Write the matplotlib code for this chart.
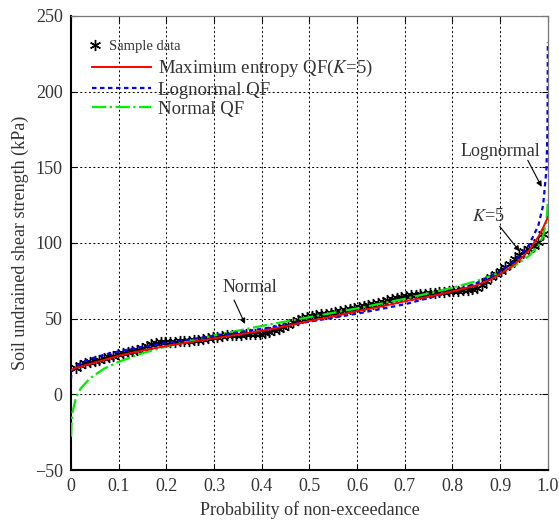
import numpy as np
import matplotlib
matplotlib.use("Agg")
import matplotlib.pyplot as plt

plt.rcParams['font.family'] = ['Liberation Serif', 'DejaVu Serif']
plt.rcParams['mathtext.fontset'] = 'stix'

# ---- data ----
sample_values = [
    17.6, 19.2, 20.5, 21.2, 21.9, 22.9, 23.8, 24.6, 25.6, 26.4,
    27.0, 27.7, 28.4, 29.5, 30.8, 31.8, 33.1, 33.9, 34.3, 34.4,
    34.6, 34.8, 35.0, 35.2, 35.5, 35.7, 36.1, 36.5, 37.0, 37.6,
    38.1, 38.5, 38.9, 39.2, 39.4, 39.5, 39.6, 39.7, 39.9, 40.1,
    40.5, 41.3, 42.2, 43.3, 44.6, 46.0, 47.5, 49.0, 50.2, 51.1,
    51.7, 52.3, 52.8, 53.3, 53.9, 54.5, 55.1, 55.8, 56.5, 57.2,
    57.7, 58.3, 58.9, 59.6, 60.4, 61.3, 62.2, 63.0, 63.8, 64.5,
    65.0, 65.4, 65.8, 66.2, 66.6, 66.9, 67.2, 67.5, 67.8, 68.0,
    68.2, 68.4, 68.7, 69.0, 69.5, 70.2, 72.5, 75.0, 77.5, 79.6,
    81.7, 83.8, 86.2, 89.3, 92.2, 94.8, 96.2, 97.8, 100.5, 106.0,
]
n_sample = len(sample_values)
sample_prob = [(i + 1) / (n_sample + 1) for i in range(n_sample)]

me_prob = [0.0, 0.01, 0.05, 0.1, 0.15, 0.2, 0.25, 0.3, 0.35, 0.4, 0.45, 0.5,
           0.55, 0.6, 0.65, 0.7, 0.75, 0.8, 0.85, 0.88, 0.9, 0.92, 0.94,
           0.96, 0.98, 0.99, 1.0]
me_values = [16.0, 17.5, 21.0, 25.5, 29.0, 32.0, 34.5, 37.0, 39.5, 42.0, 45.0,
             48.5, 51.5, 55.0, 58.0, 61.5, 64.5, 68.0, 72.0, 76.0, 79.5, 83.5,
             88.5, 95.0, 104.0, 110.0, 117.0]

logn_prob = [0.00006, 0.0003, 0.001, 0.003, 0.01, 0.02, 0.04, 0.07, 0.1, 0.15,
             0.2, 0.3, 0.4, 0.5, 0.6, 0.7, 0.8, 0.85, 0.9, 0.93, 0.96, 0.98,
             0.99, 0.997, 0.999, 0.9997, 0.99994]
logn_values = [9.9, 11.8, 13.5, 15.6, 18.5, 20.7, 23.4, 26.2, 28.4, 31.4,
               34.0, 38.7, 43.3, 48.0, 53.3, 59.5, 67.8, 73.4, 81.2, 87.9,
               98.4, 111.4, 124.6, 148.1, 170.4, 196.1, 232.7]

norm_prob = [0.0003, 0.001, 0.003, 0.01, 0.02, 0.04, 0.07, 0.1, 0.15, 0.2, 0.3,
             0.4, 0.5, 0.6, 0.7, 0.8, 0.85, 0.9, 0.93, 0.96, 0.98, 0.99,
             0.997, 0.999, 0.9997]
norm_values = [-27.9, -20.1, -12.2, -2.5, 3.8, 10.7, 17.1, 21.5, 27.2, 31.6, 38.9,
               45.2, 51.0, 56.8, 63.1, 70.4, 74.8, 80.5, 84.9, 91.3, 98.2,
               104.5, 114.2, 122.1, 128.5]

x_ticks = [0, 0.1, 0.2, 0.3, 0.4, 0.5, 0.6, 0.7, 0.8, 0.9, 1.0]
x_labels = ['0', '0.1', '0.2', '0.3', '0.4', '0.5', '0.6', '0.7', '0.8', '0.9', '1.0']
y_ticks = [-50, 0, 50, 100, 150, 200, 250]

text_color = '#333333'

fig = plt.figure(figsize=(5.59, 5.27), dpi=100)
ax = fig.add_axes([0.127, 0.108, 0.853, 0.862])

h_s, = ax.plot(sample_prob, sample_values, linestyle='none', marker=(6, 2, 0),
               markersize=8, markeredgewidth=1.0, color='black', label='Sample data', zorder=2)
h_me, = ax.plot(me_prob, me_values, color='red', linewidth=1.4,
                label='Maximum entropy QF($K$=5)', zorder=5)
h_ln, = ax.plot(logn_prob, logn_values, color='blue', linewidth=1.6, dashes=(2.0, 1.6),
                label='Lognormal QF', zorder=4)
h_n, = ax.plot(norm_prob, norm_values, color='#00ee00', linewidth=1.6, linestyle='-.',
               label='Normal QF', zorder=3)

ax.set_xlim(0, 1.0)
ax.set_ylim(-50, 250)
ax.set_xticks(x_ticks)
ax.set_xticklabels(x_labels)
ax.set_yticks(y_ticks)
ax.tick_params(direction='in', length=4, top=True, right=True,
               labelsize=13, labelcolor=text_color, pad=6)
ax.grid(True, linestyle=(0, (2, 2.5)), color='black', linewidth=0.7)
for side in ['left', 'bottom']:
    ax.spines[side].set_linewidth(1.5)
    ax.spines[side].set_color('black')
for side in ['top', 'right']:
    ax.spines[side].set_linewidth(0.9)
    ax.spines[side].set_color('#777777')

ax.set_xlabel('Probability of non-exceedance', fontsize=13, color=text_color, labelpad=4)
ax.set_ylabel('Soil undrained shear strength (kPa)', fontsize=13, color=text_color, labelpad=4)

leg1 = ax.legend(handles=[h_s], loc='upper left', frameon=False, fontsize=10.5,
                 handlelength=1.0, handletextpad=0.45, borderpad=0, borderaxespad=0,
                 bbox_to_anchor=(0.036, 0.948))
leg1.get_texts()[0].set_color(text_color)
ax.add_artist(leg1)
leg2 = ax.legend(handles=[h_me, h_ln, h_n], loc='upper left', frameon=False, fontsize=13.5,
                 handlelength=3.15, handletextpad=0.35, labelspacing=0.12,
                 borderpad=0, borderaxespad=0, bbox_to_anchor=(0.044, 0.907))
for t in leg2.get_texts():
    t.set_color(text_color)

arrow = dict(arrowstyle='-|>', color='black', lw=0.8, mutation_scale=8,
             shrinkA=0, shrinkB=0)
ax.text(0.375, 70.9, 'Normal', fontsize=13, color=text_color, ha='center', va='center')
ax.annotate('', xy=(0.365, 46.5), xytext=(0.342, 62.3), arrowprops=arrow)
ax.text(0.9, 160.3, 'Lognormal', fontsize=13, color=text_color, ha='center', va='center')
ax.annotate('', xy=(0.987, 137.0), xytext=(0.958, 154.6), arrowprops=arrow)
ax.text(0.875, 117.7, '$K$=5', fontsize=13, color=text_color, ha='center', va='center')
ax.annotate('', xy=(0.941, 94.4), xytext=(0.899, 111.0), arrowprops=arrow)

fig.savefig('out.png', dpi=100)
